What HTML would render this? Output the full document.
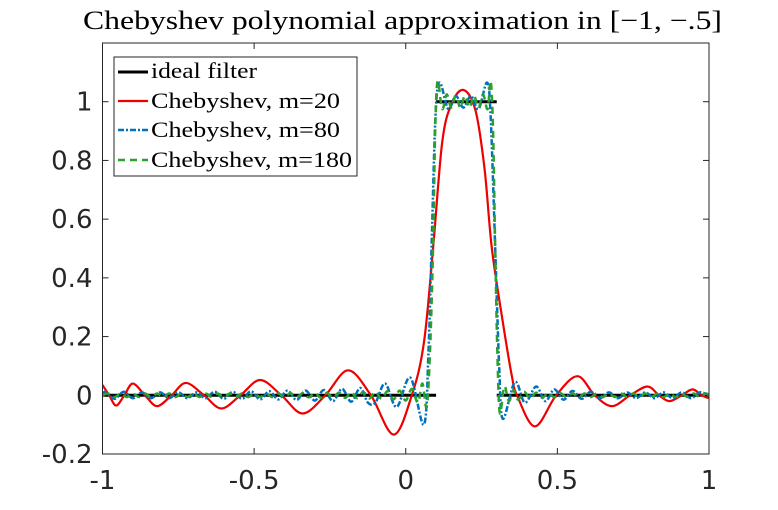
<!DOCTYPE html>
<html><head><meta charset="utf-8"><style>
body{margin:0;background:#fff}
svg{display:block}
</style></head><body>
<svg id="chart" width="778" height="510" viewBox="0 0 778 510" xmlns="http://www.w3.org/2000/svg">
<defs><clipPath id="clip"><rect x="102.5" y="43" width="606.5" height="411"/></clipPath></defs>
<rect x="0" y="0" width="778" height="510" fill="#fff"/>
<text x="83" y="29" font-family="Liberation Serif, serif" font-size="26" fill="#000" textLength="639" lengthAdjust="spacingAndGlyphs">Chebyshev polynomial approximation in [−1, −.5]</text>
<g id="ticks"></g>
<g id="series" clip-path="url(#clip)"></g>
<rect x="102.5" y="43" width="606.5" height="411" fill="none" stroke="#262626" stroke-width="1"/>
<g>
<rect x="114" y="57" width="243" height="119" fill="#fff" stroke="#262626" stroke-width="1"/>
<g><line x1="118" y1="72" x2="148" y2="72" stroke="#000" stroke-width="3"/><text x="151" y="78" font-family="Liberation Serif, serif" font-size="22" textLength="106" lengthAdjust="spacingAndGlyphs">ideal filter</text></g>
<g><line x1="118" y1="101" x2="148" y2="101" stroke="#ee0000" stroke-width="2.2"/><text x="151" y="108" font-family="Liberation Serif, serif" font-size="22" textLength="189" lengthAdjust="spacingAndGlyphs">Chebyshev, m=20</text></g>
<g><line x1="118" y1="130" x2="148" y2="130" stroke="#0072BD" stroke-width="2.5" stroke-dasharray="6,2,2,2"/><text x="151" y="137" font-family="Liberation Serif, serif" font-size="22" textLength="189" lengthAdjust="spacingAndGlyphs">Chebyshev, m=80</text></g>
<g><line x1="118" y1="160" x2="148" y2="160" stroke="#2ca02c" stroke-width="2.5" stroke-dasharray="7,5"/><text x="151" y="167" font-family="Liberation Serif, serif" font-size="22" textLength="201" lengthAdjust="spacingAndGlyphs">Chebyshev, m=180</text></g>
</g>
</svg>
<script>
const xTicks=[-1,-0.5,0,0.5,1];
const xTickLabels=["-1","-0.5","0","0.5","1"];
const yTicks=[-0.2,0,0.2,0.4,0.6,0.8,1];
const yTickLabels=["-0.2","0","0.2","0.4","0.6","0.8","1"];
const idealX=[-1,0.1,0.1,0.3,0.3,1];
const idealY=[0,0,1,1,0,0];
const redX=[-1,-0.978,-0.955,-0.928,-0.90,-0.86,-0.82,-0.772,-0.725,-0.665,-0.608,-0.545,-0.48,-0.41,-0.34,-0.265,-0.19,-0.115,-0.04,0.02,0.06,0.09,0.12,0.15,0.19,0.23,0.26,0.284,0.32,0.35,0.367,0.426,0.496,0.566,0.623,0.68,0.74,0.797,0.835,0.87,0.91,0.946,0.975,1];
const redY=[0.035,0,-0.035,0,0.04,0,-0.037,0,0.042,0,-0.045,0,0.052,0,-0.062,0,0.085,0,-0.134,0,0.18,0.5,0.86,0.99,1.04,0.97,0.77,0.5,0.25,0.065,0,-0.106,0,0.065,0,-0.037,0,0.03,0,-0.02,0,0.02,0,-0.01];
const blueX=[-1,-0.99,-0.96,-0.93,-0.9,-0.87,-0.84,-0.81,-0.78,-0.75,-0.72,-0.69,-0.66,-0.63,-0.6,-0.57,-0.54,-0.51,-0.48,-0.45,-0.42,-0.39,-0.36,-0.33,-0.3,-0.27,-0.24,-0.21,-0.18,-0.15,-0.125,-0.1,-0.068,-0.03,0.015,0.06,0.075,0.085,0.098,0.112,0.14,0.165,0.19,0.215,0.24,0.268,0.28,0.295,0.308,0.32,0.36,0.393,0.43,0.46,0.49,0.52,0.55,0.58,0.61,0.64,0.67,0.70,0.73,0.76,0.79,0.82,0.85,0.88,0.91,0.94,0.97,1.0];
const blueY=[0,0.012,-0.012,0.012,-0.01,0.01,-0.01,0.01,-0.01,0.01,-0.01,0.01,-0.01,0.012,-0.012,0.012,-0.012,0.014,-0.014,0.014,-0.014,0.016,-0.016,0.016,-0.018,0.018,-0.02,0.022,-0.022,0.025,-0.025,-0.025,0.04,-0.04,0.06,-0.1,0.15,0.5,0.95,1.065,0.975,1.02,0.98,1.02,0.975,1.065,0.95,0.5,0.1,-0.08,0.045,-0.025,0.03,-0.02,0.02,-0.015,0.015,-0.012,0.012,-0.01,0.01,-0.01,0.01,-0.01,0.01,-0.01,0.01,-0.01,0.01,-0.01,0.01,0];
const greenX=[-1,-0.98,-0.96,-0.94,-0.92,-0.9,-0.88,-0.86,-0.84,-0.82,-0.8,-0.78,-0.76,-0.74,-0.72,-0.7,-0.68,-0.66,-0.64,-0.62,-0.6,-0.58,-0.56,-0.54,-0.52,-0.5,-0.48,-0.46,-0.44,-0.42,-0.4,-0.38,-0.36,-0.34,-0.32,-0.3,-0.28,-0.26,-0.24,-0.22,-0.2,-0.18,-0.16,-0.14,-0.12,-0.1,-0.08,-0.06,-0.04,-0.02,0,0.02,0.04,0.055,0.069,0.08,0.09,0.097,0.105,0.12,0.135,0.15,0.165,0.18,0.195,0.21,0.225,0.24,0.255,0.27,0.28,0.288,0.295,0.302,0.31,0.325,0.34,0.355,0.37,0.39,0.41,0.43,0.45,0.47,0.49,0.51,0.53,0.55,0.57,0.59,0.61,0.63,0.65,0.67,0.69,0.71,0.73,0.75,0.77,0.79,0.81,0.83,0.85,0.87,0.89,0.91,0.93,0.95,0.97,0.99,1];
const greenY=[0,0.006,-0.006,0.006,-0.006,0.006,-0.006,0.006,-0.006,0.006,-0.006,0.006,-0.006,0.006,-0.006,0.006,-0.006,0.006,-0.006,0.006,-0.006,0.006,-0.006,0.006,-0.006,0.006,-0.006,0.006,-0.006,0.006,-0.006,0.007,-0.007,0.007,-0.007,0.008,-0.008,0.008,-0.008,0.009,-0.009,0.01,-0.01,0.011,-0.011,0.012,-0.012,0.014,-0.014,0.016,-0.018,0.022,-0.025,0.04,-0.04,0.15,0.5,0.9,1.07,0.975,1.025,0.98,1.02,0.98,1.02,0.98,1.02,0.98,1.025,0.975,1.07,0.9,0.5,0.15,-0.06,0.03,-0.02,0.018,-0.015,0.012,-0.01,0.009,-0.008,0.008,-0.007,0.007,-0.007,0.006,-0.006,0.006,-0.006,0.006,-0.006,0.006,-0.006,0.006,-0.006,0.006,-0.006,0.006,-0.006,0.006,-0.006,0.006,-0.006,0.006,-0.006,0.006,-0.006,0.006,0];

const X0=102.5,X1=709,Y0=43,Y1=454,YMIN=-0.2,YMAX=1.2;
function sx(u){return X0+(u+1)/2*(X1-X0);}
function sy(v){return Y0+(YMAX-v)/(YMAX-YMIN)*(Y1-Y0);}
const NS='http://www.w3.org/2000/svg';
function smoothPath(xs,ys){
  const p=xs.map((u,i)=>[sx(u),sy(ys[i])]);
  let d='M'+p[0][0].toFixed(2)+','+p[0][1].toFixed(2);
  for(let i=0;i<p.length-1;i++){
    const a=p[Math.max(0,i-1)],b=p[i],c=p[i+1],e=p[Math.min(p.length-1,i+2)];
    const c1=[b[0]+(c[0]-a[0])/6,b[1]+(c[1]-a[1])/6];
    const c2=[c[0]-(e[0]-b[0])/6,c[1]-(e[1]-b[1])/6];
    d+=' C'+c1[0].toFixed(2)+','+c1[1].toFixed(2)+' '+c2[0].toFixed(2)+','+c2[1].toFixed(2)+' '+c[0].toFixed(2)+','+c[1].toFixed(2);
  }
  return d;
}
const g=document.getElementById('series');
const ideal=document.createElementNS(NS,'path');


let dI='';
for(let i=0;i<idealX.length;i+=2){dI+='M'+sx(idealX[i])+','+sy(idealY[i])+' L'+sx(idealX[i+1])+','+sy(idealY[i+1])+' ';}
ideal.setAttribute('d',dI);
ideal.setAttribute('stroke','#000');ideal.setAttribute('stroke-width','3');ideal.setAttribute('fill','none');
g.appendChild(ideal);
function addSeries(name,xs,ys,color,w,dash){
  const p=document.createElementNS(NS,'path');
  
  
  p.setAttribute('d',smoothPath(xs,ys));
  p.setAttribute('stroke',color);p.setAttribute('stroke-width',w);p.setAttribute('fill','none');
  if(dash)p.setAttribute('stroke-dasharray',dash);
  g.appendChild(p);
}
addSeries('chebyshev-m20-line',redX,redY,'#ee0000','2.2',null);
addSeries('chebyshev-m80-line',blueX,blueY,'#0072BD','2.5','6,2,2,2');
addSeries('chebyshev-m180-line',greenX,greenY,'#2ca02c','2.5','7,5');

const t=document.getElementById('ticks');
xTicks.forEach((u,i)=>{
  const x=sx(u);
  [[Y1,Y1-6],[Y0,Y0+6]].forEach(([a,b])=>{
    const l=document.createElementNS(NS,'line');
    
    
    l.setAttribute('x1',x);l.setAttribute('x2',x);l.setAttribute('y1',a);l.setAttribute('y2',b);
    l.setAttribute('stroke','#262626');t.appendChild(l);
  });
  const tx=document.createElementNS(NS,'text');
  
  
  tx.setAttribute('x',x);tx.setAttribute('y',Y1+35);tx.setAttribute('text-anchor','middle');
  tx.setAttribute('font-family','DejaVu Sans, sans-serif');tx.setAttribute('font-size','26');tx.setAttribute('fill','#262626');
  tx.textContent=xTickLabels[i];t.appendChild(tx);
});
yTicks.forEach((v,i)=>{
  const y=sy(v);
  [[X0,X0+6],[X1,X1-6]].forEach(([a,b])=>{
    const l=document.createElementNS(NS,'line');
    
    
    l.setAttribute('x1',a);l.setAttribute('x2',b);l.setAttribute('y1',y);l.setAttribute('y2',y);
    l.setAttribute('stroke','#262626');t.appendChild(l);
  });
  const tx=document.createElementNS(NS,'text');
  
  
  tx.setAttribute('x',X0-10);tx.setAttribute('y',y+9);tx.setAttribute('text-anchor','end');
  tx.setAttribute('font-family','DejaVu Sans, sans-serif');tx.setAttribute('font-size','26');tx.setAttribute('fill','#262626');
  tx.textContent=yTickLabels[i];t.appendChild(tx);
});
</script>
</body></html>
